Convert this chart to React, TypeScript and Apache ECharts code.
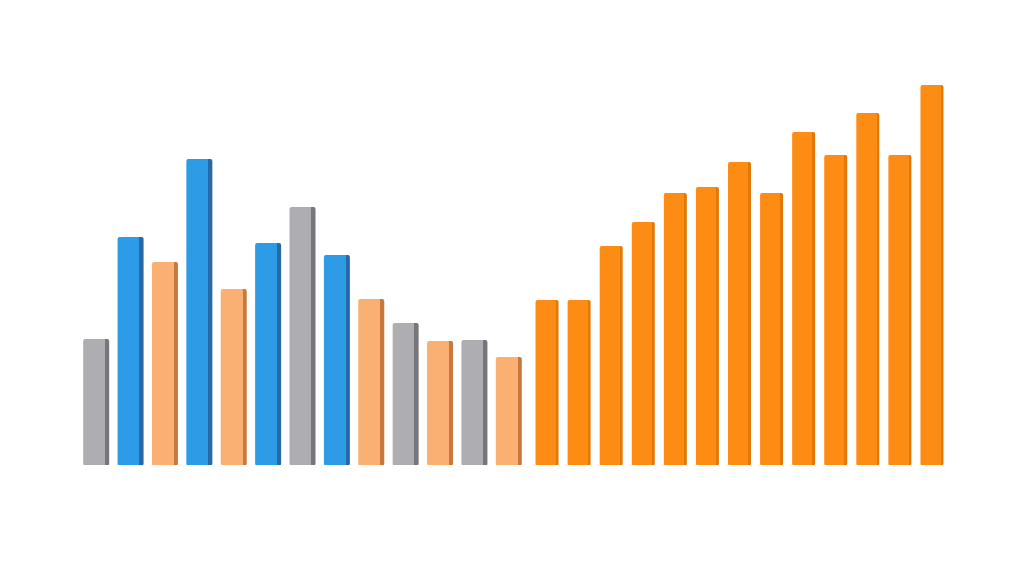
import React, { useEffect, useRef } from "react";
import * as echarts from "echarts";

// Left group: 13 bars with mixed colours
const leftCategories = ["A1","A2","A3","A4","A5","A6","A7","A8","A9","A10","A11","A12","A13"];
const leftValues = [126, 228, 203, 306, 176, 222, 258, 210, 166, 142, 124, 125, 108];
const leftKinds = ["gray","blue","light","blue","light","blue","gray","blue","light","gray","light","gray","light"];

// Right group: 13 orange bars
const rightCategories = ["B1","B2","B3","B4","B5","B6","B7","B8","B9","B10","B11","B12","B13"];
const rightValues = [165, 165, 219, 243, 272, 278, 303, 272, 333, 310, 352, 310, 380];

const palette: Record<string, [string, string]> = {
  gray: ["#adadb2", "#76767c"],
  blue: ["#2e9be6", "#2768a6"],
  light: ["#f9b072", "#c8783c"],
  orange: ["#fd8c14", "#e27806"],
};

function grad(kind: string, split: number) {
  const [base, dark] = palette[kind];
  return new echarts.graphic.LinearGradient(0, 0, 1, 0, [
    { offset: 0, color: base },
    { offset: split, color: base },
    { offset: split, color: dark },
    { offset: 1, color: dark },
  ]);
}

export default function App() {
  const ref = useRef<HTMLDivElement>(null);
  useEffect(() => {
    if (!ref.current) return;
    const chart = echarts.init(ref.current, null, { renderer: "svg" });
    const yBase = { type: "value" as const, min: 0, max: 400, show: false };
    chart.setOption({
      animation: false,
      backgroundColor: "#ffffff",
      grid: [
        { left: 79, width: 447, top: 65, height: 400 },
        { left: 531, width: 417, top: 65, height: 400 },
      ],
      xAxis: [
        { type: "category", gridIndex: 0, data: leftCategories, show: false },
        { type: "category", gridIndex: 1, data: rightCategories, show: false },
      ],
      yAxis: [
        { ...yBase, gridIndex: 0 },
        { ...yBase, gridIndex: 1 },
      ],
      series: [
        {
          type: "bar",
          xAxisIndex: 0,
          yAxisIndex: 0,
          barWidth: 26,
          data: leftValues.map((v, i) => ({
            value: v,
            itemStyle: { color: grad(leftKinds[i], 0.84), borderRadius: [2, 2, 1, 1] },
          })),
        },
        {
          type: "bar",
          xAxisIndex: 1,
          yAxisIndex: 1,
          barWidth: 23,
          data: rightValues.map((v) => ({
            value: v,
            itemStyle: { color: grad("orange", 0.88), borderRadius: [2, 2, 1, 1] },
          })),
        },
      ],
    });
    return () => chart.dispose();
  }, []);
  return <div ref={ref} style={{ width: 1024, height: 576, position: "absolute", left: 0, top: 0 }} />;
}
